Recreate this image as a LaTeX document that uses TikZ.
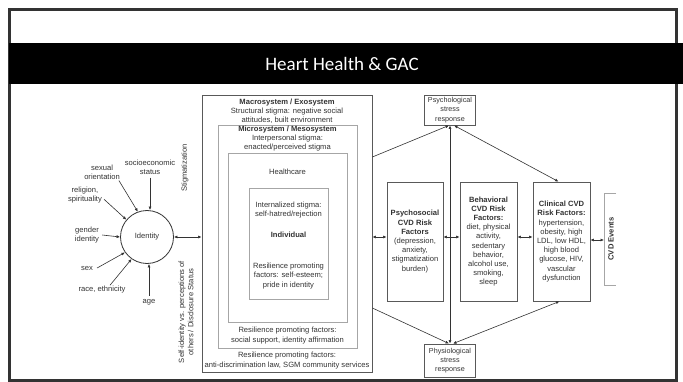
\documentclass[tikz,border=0pt]{standalone}
\usepackage{fontspec}
\setmainfont{Liberation Sans}
\newfontfamily\titlefont{Carlito}
\usetikzlibrary{arrows.meta,calc}
\begin{document}
\begin{tikzpicture}[x=1pt,y=-1pt,
  every node/.style={font=\fontsize{7.6}{9.2}\selectfont, text=black!80, inner sep=0pt},
  lbl/.style={align=center},
  boxo/.style={draw=black!65, line width=0.8pt, rectangle},
  boxi/.style={draw=black!35, line width=0.8pt, rectangle},
  rbox/.style={draw=black!65, line width=0.8pt, rectangle, align=center},
  sbox/.style={rbox, font=\fontsize{7.2}{9.2}\selectfont},
  arr/.style={draw=black!80, line width=0.6pt, -{Latex[length=3.5pt,width=3pt]}},
  darr/.style={draw=black!80, line width=0.6pt, {Latex[length=3.5pt,width=3pt]}-{Latex[length=3.5pt,width=3pt]}},
]
\useasboundingbox (0,0) rectangle (683,382);
\fill[white] (0,0) rectangle (683,382);
\draw[black!80, line width=2.5pt] (9.5,9.5) rectangle (676.5,380.5);
\fill[black] (8.5,43) rectangle (683,84);
\node[font=\titlefont\fontsize{19}{22}\selectfont, text=white] (title) at (342,63.5) {Heart Health \& GAC};

% nested system boxes
\node[boxo, minimum width=170pt, minimum height=277pt] (macro) at (287,233.5) {};
\node[boxi, minimum width=139pt, minimum height=223pt] (micro) at (287.5,236.5) {};
\node[boxi, minimum width=119pt, minimum height=169pt] (health) at (287.5,237.5) {};
\node[boxi, minimum width=79pt, minimum height=111pt] (indiv) at (288.5,243.5) {};

\node[lbl] (macrot) at (287,111) {\textbf{Macrosystem / Exosystem}\\Structural stigma: negative social\\attitudes, built environment};
\node[lbl] (microt) at (287.5,138.5) {\textbf{Microsystem / Mesosystem}\\Interpersonal stigma:\\enacted/perceived stigma};
\node (healtht) at (287.5,172) {Healthcare};
\node[lbl] (internt) at (288.5,210) {Internalized stigma:\\self-hatred/rejection};
\node[font=\fontsize{7.6}{9.2}\selectfont\bfseries] (indivt) at (288.5,235) {Individual};
\node[lbl] (res1) at (288.5,276) {Resilience promoting\\factors: self-esteem;\\pride in identity};
\node[lbl] (res2) at (287.5,335.5) {Resilience promoting factors:\\social support, identity affirmation};
\node[lbl] (res3) at (287,360.5) {Resilience promoting factors:\\anti-discrimination law, SGM community services};

% identity cluster
\node[circle, draw=black!80, line width=0.8pt, minimum size=53pt] (identity) at (147,237) {Identity};
\node[lbl] (socio) at (150,167) {socioeconomic\\status};
\node[lbl] (sexor) at (102,172) {sexual\\orientation};
\node[lbl] (relig) at (85,195) {religion,\\spirituality};
\node[lbl] (gender) at (87,235) {gender\\identity};
\node (sex) at (87,268) {sex};
\node (race) at (102,290) {race, ethnicity};
\node (age) at (149,302) {age};

\draw[arr] ([yshift=-3pt]socio.south) -- (socio.south |- identity.north);
\draw[arr] ([shift={(-1pt,-1pt)}]sexor.south east) -- (identity.110);
\draw[arr] ([shift={(2pt,4pt)}]relig.south east) -- (identity.140);
\draw[arr] ([xshift=3pt]gender.east) -- (identity.west);
\draw[arr] ([xshift=4pt]sex.east) -- (identity.215);
\draw[arr] ([shift={(8pt,1pt)}]race.north) -- (identity.235);
\draw[arr] ([yshift=3pt]age.north) -- (age.north |- identity.south);

\node[rotate=90] (stig) at (185,168) {Stigmatization};
\node[rotate=90, lbl] (selfid) at (186,312) {Self-identity vs. perceptions of\\others / Disclosure Status};
\draw[darr] (identity.east) -- (identity.east -| macro.west);

% right side
\node[sbox, minimum width=51pt, minimum height=30pt] (psyc) at (450,110) {Psychological\\stress\\response};
\node[sbox, minimum width=51pt, minimum height=33pt] (phys) at (450,360.5) {Physiological\\stress\\response};
\node[rbox, minimum width=56pt, minimum height=119pt] (psoc) at (415,241.5) {\textbf{Psychosocial}\\\textbf{CVD Risk}\\\textbf{Factors}\\(depression,\\anxiety,\\stigmatization\\burden)};
\node[rbox, minimum width=57pt, minimum height=119pt] (behav) at (488.5,241.5) {\textbf{Behavioral}\\\textbf{CVD Risk}\\\textbf{Factors:}\\diet, physical\\activity,\\sedentary\\behavior,\\alcohol use,\\smoking,\\sleep};
\node[rbox, minimum width=57pt, minimum height=119pt] (clin) at (561.5,241.5) {\textbf{Clinical CVD}\\\textbf{Risk Factors:}\\hypertension,\\obesity, high\\LDL, low HDL,\\high blood\\glucose, HIV,\\vascular\\dysfunction};

\draw[black!35, line width=0.8pt] (616,193) -- (604,193) -- (604,285) -- (616,285);
\node[rotate=90, font=\fontsize{7.6}{9.2}\selectfont\bfseries] (cvd) at (611,239) {CVD Events};
\coordinate (cvdl) at (604,240);

\draw[darr] (macro.east |- 0,237) -- (psoc.west |- 0,237);
\draw[darr] (psoc.east |- 0,237) -- (behav.west |- 0,237);
\draw[darr] (behav.east |- 0,237) -- (clin.west |- 0,237);
\draw[darr] (clin.east |- cvdl) -- (cvdl);
\draw[arr] (macro.east |- 0,157) -- ([xshift=-1pt]psyc.south);
\draw[darr] (psyc.south) -- (phys.north);
\draw[darr] ([xshift=4pt]psyc.south) -- ([xshift=-3pt]clin.north);
\draw[arr] (macro.east |- 0,308) -- ([xshift=-1pt]phys.north);
\draw[darr] ([xshift=3pt]phys.north) -- ([xshift=-2pt]clin.south);
\end{tikzpicture}
\end{document}
